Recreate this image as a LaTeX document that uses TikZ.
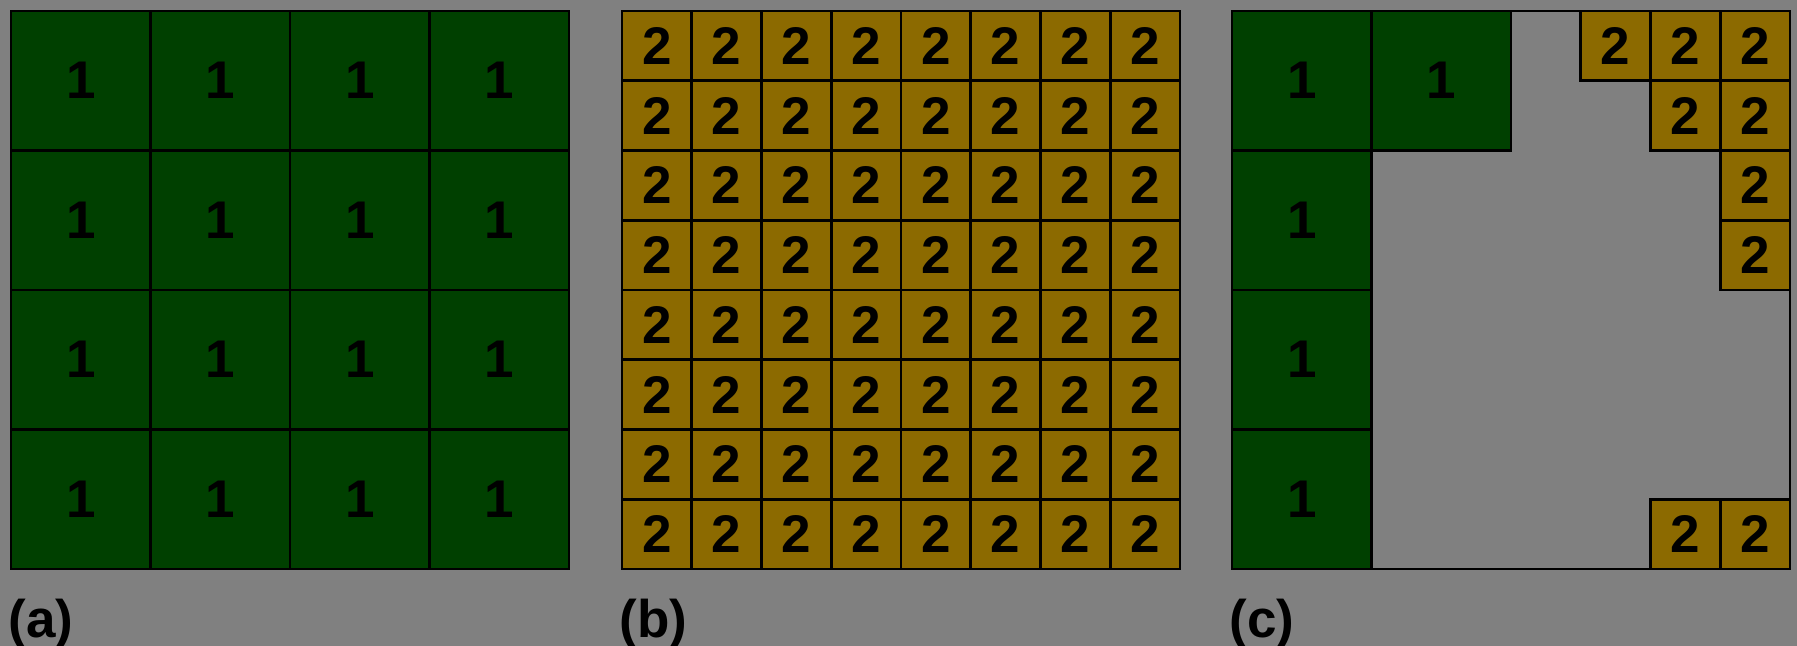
\documentclass[tikz,border=0pt]{standalone}
\usepackage{fontspec}
\setmainfont{Liberation Sans}
\usetikzlibrary{positioning}
\definecolor{bggray}{RGB}{128,128,128}
\definecolor{leafgreen}{RGB}{0,64,0}
\definecolor{ochre}{RGB}{140,106,0}

\begin{document}
\begin{tikzpicture}[x=0.5pt, y=-0.5pt, font=\fontsize{26.5}{30}\selectfont\bfseries,
    bigcell/.style={draw=black, line width=1.3pt, fill=leafgreen, minimum size=69.75pt, inner sep=0pt},
    smallcell/.style={draw=black, line width=1.3pt, fill=ochre, minimum size=34.875pt, inner sep=0pt},
    tag/.style={anchor=base west, inner sep=0pt}]
  \fill[bggray] (0,0) rectangle (1797,646);
  \useasboundingbox (0,0) rectangle (1797,646);
  % (a) coarse grid
  \foreach \r in {0,...,3}
    \foreach \c in {0,...,3}
      \node[bigcell] (a-\r-\c) at ({80.75+139.5*\c}, {80.75+139.5*\r}) {1};
  % (b) fine grid
  \foreach \r in {0,...,7}
    \foreach \c in {0,...,7}
      \node[smallcell] (b-\r-\c) at ({656.875+69.75*\c}, {45.875+69.75*\r}) {2};
  % (c) mixed
  \draw[line width=1.3pt] (1232,11) rectangle (1790,569);
  \node[bigcell] (c-0-0) at (1301.75, 80.75)  {1};
  \node[bigcell] (c-0-1) at (1441.25, 80.75)  {1};
  \node[bigcell] (c-1-0) at (1301.75, 220.25) {1};
  \node[bigcell] (c-2-0) at (1301.75, 359.75) {1};
  \node[bigcell] (c-3-0) at (1301.75, 499.25) {1};
  \foreach \r/\c in {0/5,0/6,0/7,1/6,1/7,2/7,3/7,7/6,7/7}
    \node[smallcell] (c-s-\r-\c) at ({1266.875+69.75*\c}, {45.875+69.75*\r}) {2};
  % panel tags
  \node[tag] (tag-a) at (8,637)    {(a)};
  \node[tag] (tag-b) at (619,637)  {(b)};
  \node[tag] (tag-c) at (1229,637) {(c)};
\end{tikzpicture}
\end{document}
